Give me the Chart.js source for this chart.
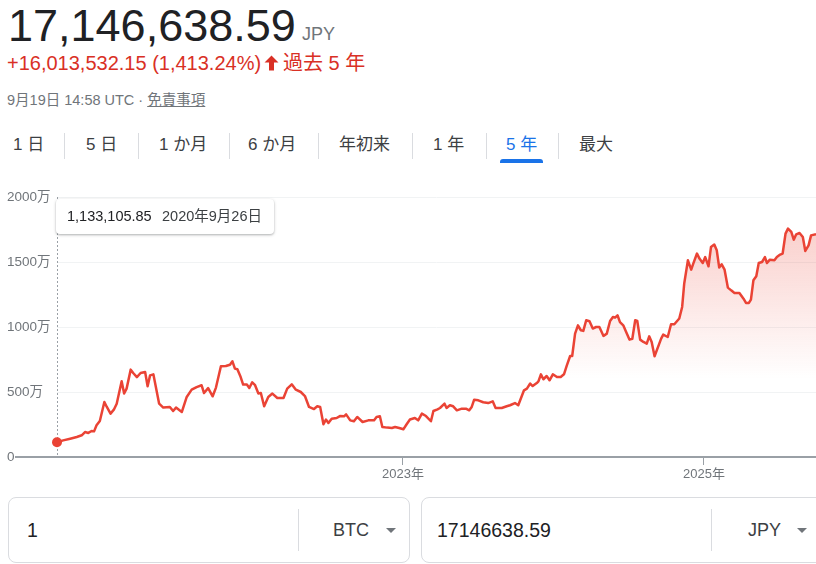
<!DOCTYPE html>
<html><head><meta charset="utf-8">
<script src="https://cdn.jsdelivr.net/npm/chart.js@4.4.1/dist/chart.umd.min.js"></script>
<style>
html,body{margin:0;padding:0;background:#fff;width:816px;height:564px;overflow:hidden;
  font-family:Arial,"Liberation Sans","Noto Sans CJK JP",sans-serif;}
.a{position:absolute;white-space:nowrap;}
#price{left:8px;top:0;font-size:45px;line-height:52px;color:#202124;}
#cur{left:302px;top:24px;font-size:18px;line-height:20px;color:#70757a;}
#chg{left:7px;top:51px;font-size:20px;line-height:24px;color:#d93025;}
#arrow{left:264px;top:55px;width:15px;height:16px;}
#per{left:283px;top:51px;font-size:20px;line-height:24px;color:#d93025;}
#time{left:7px;top:92px;font-size:14.5px;line-height:17px;color:#70757a;}
#time u{color:#70757a;text-decoration:underline;}
.tab{top:135px;font-size:17px;line-height:20px;color:#3c4043;}
.tab.on{color:#1a73e8;}
.sep{top:133px;width:1px;height:26px;background:#dadce0;}
#ul{left:500px;top:159px;width:43px;height:4px;background:#1a73e8;border-radius:3px 3px 0 0;}
#cv{position:absolute;left:0;top:180px;}
#tip{left:56px;top:199px;width:218px;height:35px;background:#fff;border-radius:4px;
  box-shadow:0 1px 3px rgba(60,64,67,.3),0 1px 2px rgba(60,64,67,.15);z-index:5;}
#tip span{position:absolute;top:8px;font-size:14.5px;line-height:18px;color:#202124;}
.box{top:497px;height:64px;border:1px solid #dadce0;border-radius:8px;background:#fff;}
.isep{top:509px;width:1px;height:42px;background:#dadce0;}
.val{top:519px;font-size:19.5px;line-height:22px;color:#202124;}
.unit{top:519px;font-size:18px;line-height:22px;color:#3c4043;}
.tri{width:0;height:0;border-left:5px solid transparent;border-right:5px solid transparent;border-top:5px solid #70757a;top:528px;}
</style></head>
<body>
<div class="a" id="price">17,146,638.59</div>
<div class="a" id="cur">JPY</div>
<div class="a" id="chg">+16,013,532.15 (1,413.24%)</div>
<svg class="a" id="arrow" viewBox="0 0 15 16"><path fill="#d93025" d="M7.5 0.5L14.5 7.5H10V15.5H5V7.5H0.5Z"/></svg>
<div class="a" id="per">過去 5 年</div>
<div class="a" id="time">9月19日 14:58 UTC · <u>免責事項</u></div>

<div class="a tab" style="left:13px">1 日</div>
<div class="a sep" style="left:64px"></div>
<div class="a tab" style="left:86px">5 日</div>
<div class="a sep" style="left:138px"></div>
<div class="a tab" style="left:159px">1 か月</div>
<div class="a sep" style="left:229px"></div>
<div class="a tab" style="left:248px">6 か月</div>
<div class="a sep" style="left:318px"></div>
<div class="a tab" style="left:339px">年初来</div>
<div class="a sep" style="left:412px"></div>
<div class="a tab" style="left:433px">1 年</div>
<div class="a sep" style="left:486px"></div>
<div class="a tab on" style="left:506px">5 年</div>
<div class="a sep" style="left:558px"></div>
<div class="a tab" style="left:579px">最大</div>
<div class="a" id="ul"></div>

<canvas id="cv" width="816" height="300"></canvas>
<div class="a" id="tip"><span style="left:11px">1,133,105.85</span><span style="left:106px;color:#3c4043">2020年9月26日</span></div>

<div class="a box" style="left:8px;width:400px"></div>
<div class="a isep" style="left:298px"></div>
<div class="a val" style="left:27px">1</div>
<div class="a unit" style="left:333px">BTC</div>
<div class="a tri" style="left:386px"></div>
<div class="a box" style="left:421px;width:420px"></div>
<div class="a isep" style="left:711px"></div>
<div class="a val" style="left:437px">17146638.59</div>
<div class="a unit" style="left:748px">JPY</div>
<div class="a tri" style="left:797px"></div>

<script>
// Day 0 = 2020-09-13 (start of the plotted range)
const startDate = '2020-09-13';
const days = [
  0,15,32,48,60,68,76,84,90,96,104,115,121,130,138,145,157,163,169,179,185,194,203,214,220,226,234,248,258,274,
  282,289,303,315,327,339,351,357,367,378,386,398,410,420,426,432,438,446,452,461,467,474,481,489,495,503,513,523,535,550,
  559,570,580,592,602,612,624,632,639,647,653,659,667,679,687,697,702,712,721,729,742,756,770,776,784,790,802,813,821,831,
  841,849,857,869,877,886,896,908,914,924,930,941,946,954,962,971,983,993,1001,1007,1013,1023,1035,1047,1058,1065,1080,1092,1100,1112,
  1120,1134,1141,1149,1155,1165,1169,1175,1181,1189,1196,1204,1214,1223,1231,1238,1246,1251,1258,1265,1272,1278,1285,1293,1301,1309,1317,1327,1335,1343,
  1350,1355,1361,1367,1375,1382,1390,1397,1404,1409,1416,1424,1432,1438,1444,1451,1467,1472,1483,1491,1499,1511,1518,1523,1532,1540,1545,1554,1560,1568,
  1574,1582,1588,1596,1602,1608,1614,1621,1629,1637,1645,1657,1667,1673,1680,1685,1691,1698,1704,1712,1719,1724,1731,1742,1748,1756,1762,1769,1775,1783,
  1789,1795,1803,1811,1817,1825,1831,1843
];
// BTC price in 万円 (10,000 JPY)
const values = [
  113.3,128,141,154,167,192,185,200,197,244,277,423,385,334,364,410,582,488,526,672,646,615,646,654,544,628,636,410,380,385,
  354,380,346,462,518,538,552,492,530,467,534,698,700,710,736,680,675,615,557,557,531,575,552,488,492,390,462,488,454,454,
  526,559,518,500,469,385,369,390,385,252,288,262,295,300,315,313,328,282,275,308,269,282,282,308,313,231,226,223,231,223,
  213,252,288,300,282,334,315,275,354,367,377,410,377,398,390,359,372,372,359,385,441,436,421,415,428,377,377,390,398,415,
  398,513,526,565,546,569,582,636,598,623,590,636,615,615,636,705,777,777,949,1013,975,970,1052,1044,988,1000,1000,931,949,1046,
  1077,1072,1090,1038,1013,962,903,910,1052,1046,903,885,872,928,885,775,911,941,923,1021,1021,1065,1154,1334,1513,1441,1487,1565,1526,1492,
  1538,1467,1615,1634,1590,1457,1482,1441,1303,1282,1262,1262,1218,1185,1185,1211,1359,1390,1492,1500,1538,1492,1518,1513,1538,1557,1565,1718,1757,1731,
  1672,1713,1723,1692,1585,1628,1705,1714.7
];
const yTickValues = [0,500,1000,1500,2000];
const xTickDates = ['2023-01-01','2025-01-01'];
const xTickLabels = ['2023年','2025年'];

const dayOf = s => Math.round((Date.parse(s + 'T00:00:00Z') - Date.parse(startDate + 'T00:00:00Z')) / 86400000);
const xTickDays = xTickDates.map(dayOf);
const LINE = '#ea4335';
const GRAY = '#70757a';
const FONT = 'Arial, "Liberation Sans", "Noto Sans CJK JP", sans-serif';

const overlay = {
  id: 'overlay',
  beforeDatasetsDraw(chart) {
    const {ctx, chartArea, scales} = chart;
    const x = scales.x.getPixelForValue(days[0]);
    ctx.save();
    ctx.strokeStyle = '#9aa0a6';
    ctx.lineWidth = 1;
    ctx.setLineDash([2, 2]);
    ctx.beginPath();
    ctx.moveTo(Math.round(x) + 0.5, chartArea.top);
    ctx.lineTo(Math.round(x) + 0.5, chartArea.bottom);
    ctx.stroke();
    ctx.restore();
  },
  afterDraw(chart) {
    const {ctx, chartArea, scales} = chart;
    const y0 = scales.y.getPixelForValue(0);
    ctx.save();
    ctx.strokeStyle = '#9aa0a6';
    ctx.lineWidth = 2;
    ctx.beginPath();
    ctx.moveTo(15, y0);
    ctx.lineTo(chart.width, y0);
    ctx.stroke();
    ctx.restore();
  }
};

new Chart(document.getElementById('cv'), {
  type: 'line',
  data: {
    datasets: [{
      data: days.map((d, i) => ({x: d, y: values[i]})),
      borderColor: LINE,
      borderWidth: 2.5,
      borderJoinStyle: 'round',
      tension: 0,
      fill: 'origin',
      clip: false,
      backgroundColor: (c) => {
        const ca = c.chart.chartArea;
        if (!ca) return 'rgba(0,0,0,0)';
        const g = c.chart.ctx.createLinearGradient(0, ca.top, 0, ca.bottom);
        g.addColorStop(0, 'rgba(234,67,53,0.30)');
        g.addColorStop(0.7, 'rgba(234,67,53,0)');
        g.addColorStop(1, 'rgba(234,67,53,0)');
        return g;
      },
      pointRadius: (c) => c.dataIndex === 0 ? 5 : 0,
      pointBackgroundColor: LINE,
      pointBorderWidth: 0,
      pointHoverRadius: 0
    }]
  },
  options: {
    responsive: false,
    animation: false,
    events: [],
    layout: {autoPadding: false, padding: {left: 7, top: 17, right: 0, bottom: 0}},
    plugins: {legend: {display: false}, tooltip: {enabled: false}},
    scales: {
      x: {
        type: 'linear',
        min: days[0],
        max: days[days.length - 1],
        afterBuildTicks: (s) => { s.ticks = xTickDays.map(v => ({value: v})); },
        afterFit: (s) => { s.height = 23; s.paddingLeft = 0; s.paddingRight = 0; },
        ticks: {
          autoSkip: false, maxRotation: 0, padding: 2, color: GRAY,
          font: {family: FONT, size: 13},
          callback: (v) => xTickLabels[xTickDays.indexOf(v)]
        },
        grid: {drawOnChartArea: false, drawTicks: true, tickLength: 8, color: '#9aa0a6', lineWidth: 1},
        border: {display: false}
      },
      y: {
        min: 0, max: 2000,
        afterBuildTicks: (s) => { s.ticks = yTickValues.map(v => ({value: v})); },
        afterFit: (s) => { s.width = 50; },
        ticks: {
          crossAlign: 'far', padding: 0, color: GRAY,
          font: {family: FONT, size: 13.5},
          callback: (v) => v === 0 ? '0' : v + '万'
        },
        grid: {drawTicks: false, color: (c) => c.tick && c.tick.value === 0 ? 'rgba(0,0,0,0)' : '#f1f3f4', lineWidth: 1},
        border: {display: false}
      }
    }
  },
  plugins: [overlay]
});
</script>
</body></html>
